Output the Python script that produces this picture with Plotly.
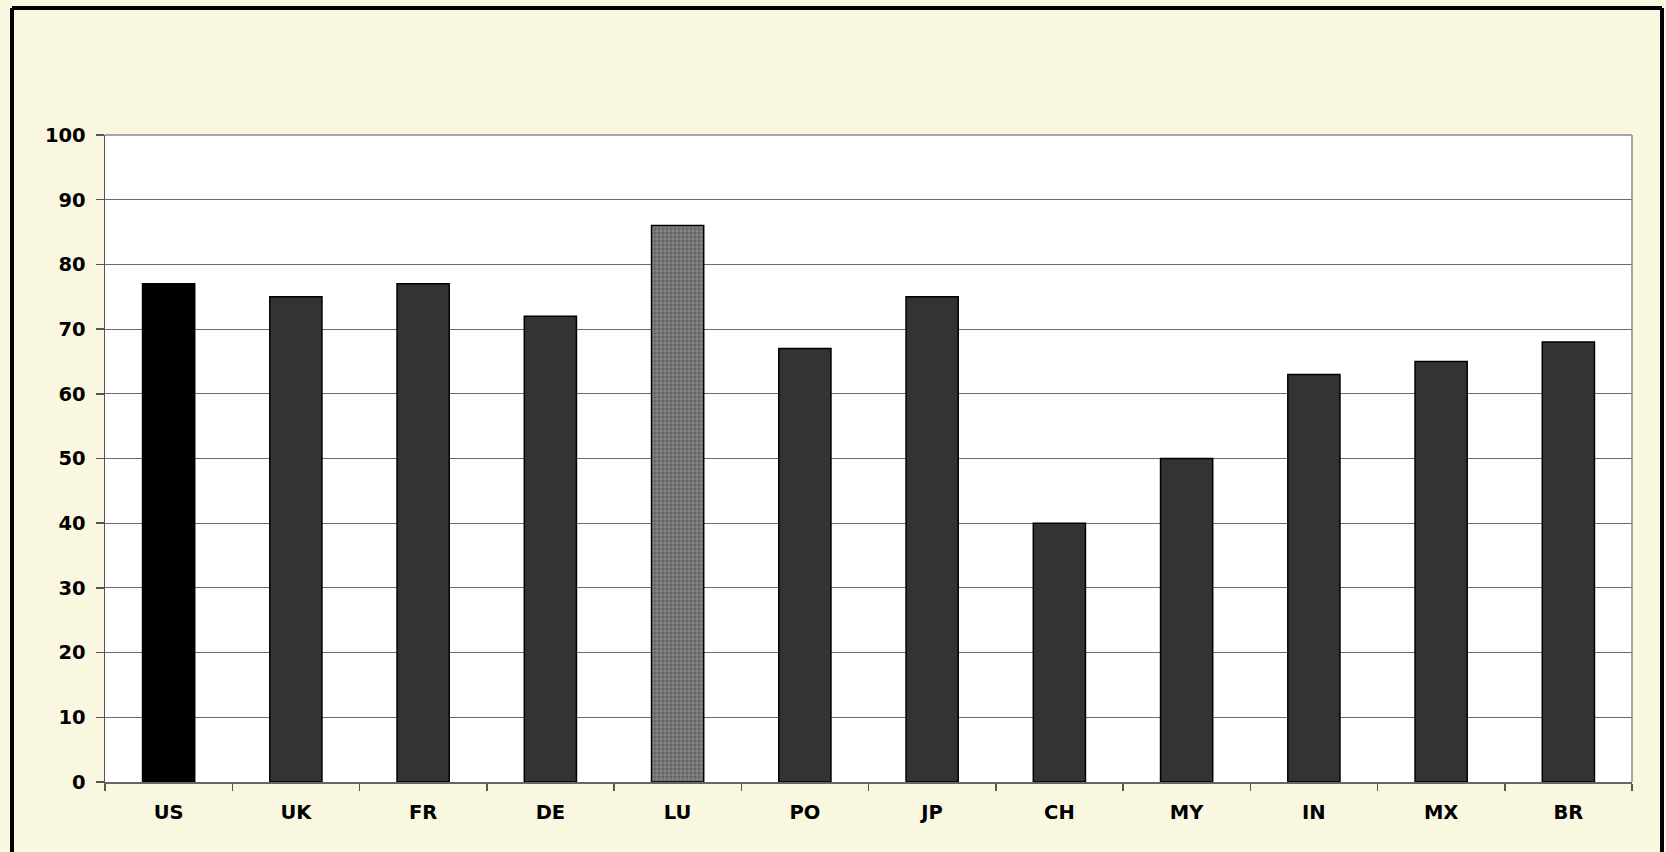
import plotly.graph_objects as go

categories = ["US", "UK", "FR", "DE", "LU", "PO", "JP", "CH", "MY", "IN", "MX", "BR"]
values = [77, 75, 77, 72, 86, 67, 75, 40, 50, 63, 65, 68]
y_ticks = list(range(0, 101, 10))

def bar_color(c):
    if c == "US":
        return "#000000"
    if c == "LU":
        return "#858585"
    return "#333333"

colors = [bar_color(c) for c in categories]
patterns = ["+" if c == "LU" else "" for c in categories]

cream = "#FAF7E1"
W, H = 1666, 852
ml, mr, mt, mb = 105, 34, 135, 70
pw, ph = W - ml - mr, H - mt - mb

def px_x(x):
    return (x - ml) / pw

def px_y(y):
    return (H - mb - y) / ph

fig = go.Figure(go.Bar(
    x=categories, y=values,
    marker=dict(color=colors,
                line=dict(color="#000000", width=1.5),
                pattern=dict(shape=patterns, size=4, solidity=0.25,
                             fgcolor="#9a9a9a", fgopacity=1)),
    width=0.41,
    hoverinfo="skip",
))

tfont = dict(family="DejaVu Sans", size=19.5, color="#000000", weight="bold")

fig.update_layout(
    width=W, height=H,
    margin=dict(l=ml, r=mr, t=mt, b=mb, autoexpand=False),
    paper_bgcolor=cream, plot_bgcolor="#FFFFFF",
    showlegend=False,
    xaxis=dict(
        type="category", tickson="boundaries", ticks="outside", ticklen=7,
        tickcolor="#555555", tickwidth=1.5,
        showline=True, linecolor="#666666", linewidth=1.5,
        showgrid=False, tickfont=tfont, ticklabelstandoff=12,
        range=[-0.5, 11.5],
    ),
    yaxis=dict(
        range=[0, 100], tickvals=y_ticks, ticks="outside", ticklen=8,
        tickcolor="#555555", tickwidth=1.5,
        showline=True, linecolor="#555555", linewidth=1.5,
        showgrid=True, gridcolor="#6b6b6b", gridwidth=1,
        zeroline=False, tickfont=tfont, ticklabelstandoff=6,
    ),
    shapes=[
        dict(type="line", xref="paper", yref="paper", x0=0, x1=1, y0=1, y1=1,
             line=dict(color="#8a8a8a", width=1.5)),
        dict(type="line", xref="paper", yref="paper", x0=1, x1=1, y0=0, y1=1,
             line=dict(color="#8a8a8a", width=1.5)),
        dict(type="line", xref="paper", yref="paper", x0=px_x(12), x1=px_x(12),
             y0=px_y(8), y1=px_y(H + 10), line=dict(color="#000000", width=4)),
        dict(type="line", xref="paper", yref="paper", x0=px_x(12), x1=px_x(1662),
             y0=px_y(8), y1=px_y(8), line=dict(color="#000000", width=4)),
        dict(type="line", xref="paper", yref="paper", x0=px_x(1662), x1=px_x(1662),
             y0=px_y(8), y1=px_y(H + 10), line=dict(color="#000000", width=4)),
    ],
)

fig.write_html(
    "out.html",
    config={"displayModeBar": False, "staticPlot": True},
    post_script="document.body.style.margin='0';document.body.style.background='#FAF7E1';"
                "document.body.style.overflow='hidden';",
)
